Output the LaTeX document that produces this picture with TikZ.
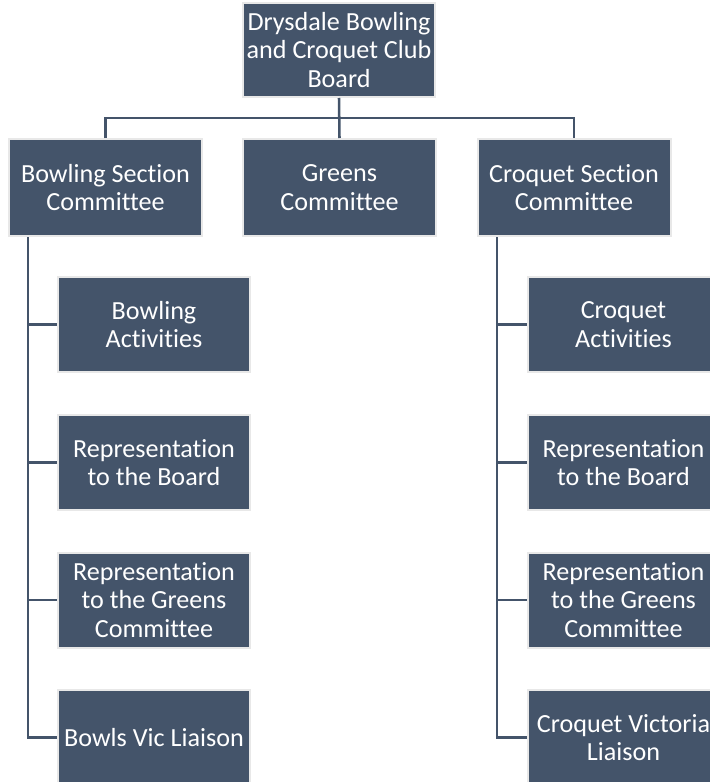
\documentclass[tikz,border=0pt]{standalone}
\usepackage{fontspec}
\setmainfont[Ligatures=NoCommon]{Carlito}
\definecolor{boxfill}{HTML}{44546A}
\definecolor{boxedge}{HTML}{E8E8E8}
\tikzset{
  orgbox/.style={draw=boxedge, line width=1.5pt, fill=boxfill, text=white, align=center,
    inner sep=0pt, font=\fontsize{19.6pt}{21.3pt}\selectfont},
  topbox/.style={orgbox, minimum width=144pt, minimum height=70.5pt},
  midbox/.style={orgbox, minimum width=144.75pt, minimum height=72.75pt},
  kidbox/.style={orgbox, minimum width=144pt, minimum height=71.25pt},
  conn/.style={draw=boxfill, line width=1.9pt}
}
\begin{document}
\begin{tikzpicture}[x=0.75pt,y=-0.75pt]
\useasboundingbox (0,0) rectangle (710,782);
\node[topbox] (top) at (339,50) {Drysdale Bowling\\and Croquet Club\\Board};
\node[midbox] (bowl) at (105.5,187.5) {Bowling Section\\Committee};
\node[midbox] (greens) at (339.5,187.5) {Greens\\Committee};
\node[midbox] (croq) at (574,187.5) {Croquet Section\\Committee};

\node[kidbox] (b1) at (154,324.5) {Bowling\\Activities};
\node[kidbox] (b2) at (154,462.5) {Representation\\to the Board};
\node[kidbox] (b3) at (154,600) {Representation\\to the Greens\\Committee};
\node[kidbox] (b4) at (154,737.5) {Bowls Vic Liaison};

\node[kidbox] (c1) at (623.5,324.5) {Croquet\\Activities};
\node[kidbox] (c2) at (623.5,462.5) {Representation\\to the Board};
\node[kidbox] (c3) at (623.5,600) {Representation\\to the Greens\\Committee};
\node[kidbox] (c4) at (623.5,737.5) {Croquet Victoria\\Liaison};

\coordinate (bus) at (339,118);
\coordinate (lb) at (28,0);
\coordinate (rb) at (497,0);

\draw[conn] (top.south) -- (greens.north);
\draw[conn] (bowl.north) -- (bowl.north |- bus) -- (croq.north |- bus) -- (croq.north);

\draw[conn] (bowl.south -| lb) |- (b4.west);
\draw[conn] (lb |- b1.west) -- (b1.west);
\draw[conn] (lb |- b2.west) -- (b2.west);
\draw[conn] (lb |- b3.west) -- (b3.west);

\draw[conn] (croq.south -| rb) |- (c4.west);
\draw[conn] (rb |- c1.west) -- (c1.west);
\draw[conn] (rb |- c2.west) -- (c2.west);
\draw[conn] (rb |- c3.west) -- (c3.west);
\end{tikzpicture}
\end{document}
